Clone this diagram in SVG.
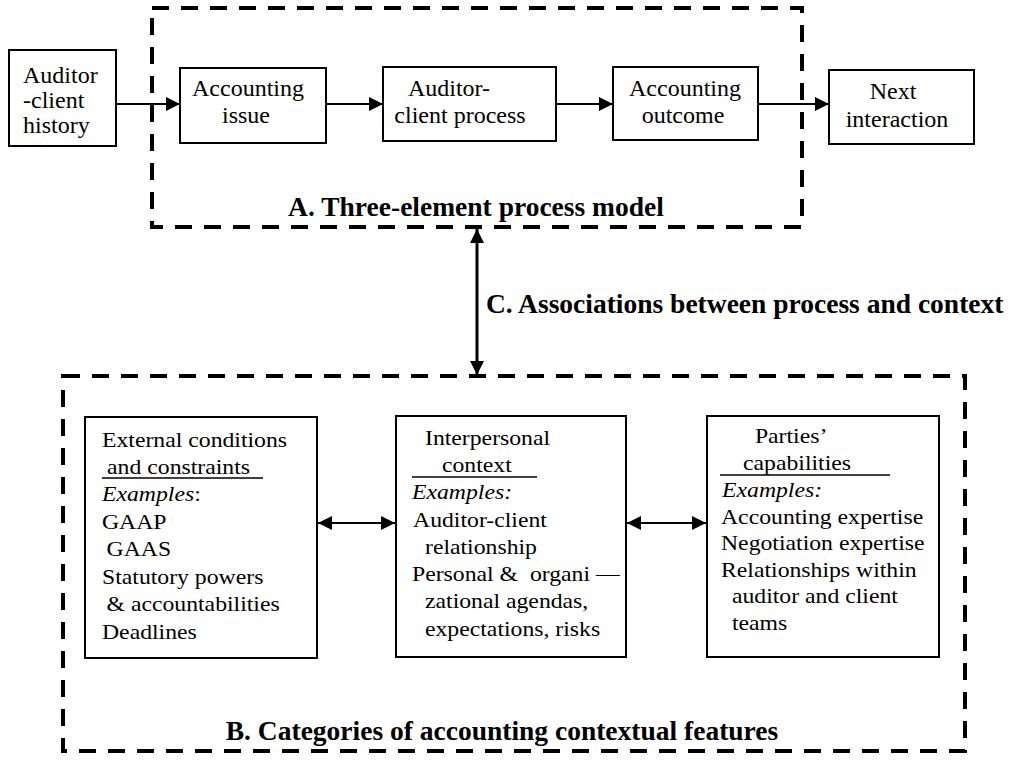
<svg xmlns="http://www.w3.org/2000/svg" width="1019" height="763" viewBox="0 0 1019 763">
<style>
.bg{fill:#ffffff}
.box{fill:#ffffff;stroke:#000;stroke-width:2}
.dash{fill:none;stroke:#000;stroke-width:4;stroke-dasharray:17 12}
.t{font-family:"Liberation Serif","Times New Roman",serif;font-size:24px;fill:#000}
.tc{text-anchor:middle}
.s{font-family:"Liberation Serif","Times New Roman",serif;font-size:21px;fill:#000}
.i{font-style:italic}
.lbl{font-family:"Liberation Serif","Times New Roman",serif;font-size:27.5px;font-weight:bold;fill:#000}
.c{stroke:#000;stroke-width:2;fill:none}
.ul{stroke:#000;stroke-width:1.5}
</style>
<defs>
<marker id="ah" markerUnits="userSpaceOnUse" markerWidth="15" markerHeight="14" refX="14" refY="7" orient="auto-start-reverse">
<path d="M0,0 L14,7 L0,14 z" fill="#000"/>
</marker>
</defs>
<rect class="bg" x="0" y="0" width="1019" height="763"/>

<g id="groupA">
<rect class="dash" x="152" y="8" width="650" height="219"/>
<text class="lbl" x="476" y="216" text-anchor="middle">A. Three-element process model</text>
</g>

<g id="groupB">
<rect class="dash" x="63" y="376" width="902" height="375"/>
<text class="lbl" x="502" y="740" text-anchor="middle">B. Categories of accounting contextual features</text>
</g>

<g id="labelC">
<text class="lbl" x="486" y="313">C. Associations between process and context</text>
</g>

<g id="history">
<rect class="box" x="9" y="50" width="107" height="96"/>
<text class="t" x="23" y="83">Auditor</text>
<text class="t" x="23" y="108">-client</text>
<text class="t" x="23" y="133">history</text>
</g>

<g id="issue">
<rect class="box" x="180" y="68" width="146" height="75"/>
<text class="t tc" x="248" y="96">Accounting</text>
<text class="t tc" x="246" y="123">issue</text>
</g>

<g id="process">
<rect class="box" x="383" y="67" width="173" height="74"/>
<text class="t tc" x="449" y="96">Auditor-</text>
<text class="t tc" x="460" y="123">client process</text>
</g>

<g id="outcome">
<rect class="box" x="613" y="67" width="145" height="73"/>
<text class="t tc" x="685" y="96">Accounting</text>
<text class="t tc" x="683" y="123">outcome</text>
</g>

<g id="next">
<rect class="box" x="829" y="70" width="145" height="74"/>
<text class="t tc" x="893" y="99">Next</text>
<text class="t tc" x="897" y="127">interaction</text>
</g>

<g id="external">
<rect class="box" x="85" y="417" width="232" height="241"/>
<g transform="translate(102 0) scale(1.13 1)">
<text class="s" x="0" y="447">External conditions</text>
<text class="s" x="4.5" y="474">and constraints</text>
<text class="s" x="0" y="501"><tspan class="i">Examples</tspan>:</text>
<text class="s" x="0" y="529">GAAP</text>
<text class="s" x="4" y="556">GAAS</text>
<text class="s" x="0" y="584">Statutory powers</text>
<text class="s" x="4" y="611">&amp; accountabilities</text>
<text class="s" x="0" y="639">Deadlines</text>
</g>
<line class="ul" x1="102" y1="478" x2="263" y2="478"/>
</g>

<g id="interpersonal">
<rect class="box" x="396" y="416" width="230" height="241"/>
<g transform="translate(412 0) scale(1.13 1)">
<text class="s" x="11.5" y="445">Interpersonal</text>
<text class="s" x="26.5" y="472">context</text>
<text class="s i" x="0" y="499">Examples:</text>
<text class="s" x="0.9" y="527">Auditor-client</text>
<text class="s" x="11.5" y="554">relationship</text>
<text class="s" x="0" y="581" xml:space="preserve">Personal &amp;  organi —</text>
<text class="s" x="11.5" y="608">zational agendas,</text>
<text class="s" x="11.5" y="636">expectations, risks</text>
</g>
<line class="ul" x1="412" y1="477" x2="537" y2="477"/>
</g>

<g id="parties">
<rect class="box" x="707" y="416" width="232" height="241"/>
<g transform="translate(721 0) scale(1.13 1)">
<text class="s" x="30" y="443">Parties’</text>
<text class="s" x="19.5" y="470">capabilities</text>
<text class="s i" x="0.9" y="497">Examples:</text>
<text class="s" x="0" y="524">Accounting expertise</text>
<text class="s" x="0" y="550">Negotiation expertise</text>
<text class="s" x="0" y="577">Relationships within</text>
<text class="s" x="9.7" y="603">auditor and client</text>
<text class="s" x="9.7" y="630">teams</text>
</g>
<line class="ul" x1="720" y1="475" x2="890" y2="475"/>
</g>

<g id="connectors">
<line class="c" x1="116" y1="104" x2="180" y2="104" marker-end="url(#ah)"/>
<line class="c" x1="326" y1="104" x2="383" y2="104" marker-end="url(#ah)"/>
<line class="c" x1="556" y1="104" x2="613" y2="104" marker-end="url(#ah)"/>
<line class="c" x1="758" y1="104" x2="829" y2="104" marker-end="url(#ah)"/>
<line class="c" style="stroke-width:3" x1="477" y1="229" x2="477" y2="375" marker-start="url(#ah)" marker-end="url(#ah)"/>
<line class="c" x1="318" y1="523" x2="395" y2="523" marker-start="url(#ah)" marker-end="url(#ah)"/>
<line class="c" x1="627" y1="523" x2="706" y2="523" marker-start="url(#ah)" marker-end="url(#ah)"/>
</g>
</svg>
